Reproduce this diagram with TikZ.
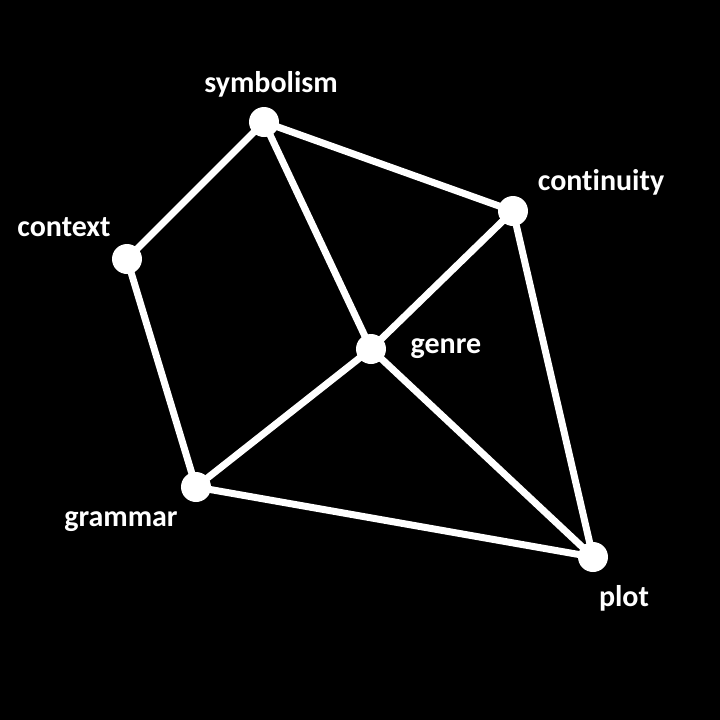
\documentclass[tikz,border=0pt]{standalone}
\usepackage{fontspec}
\setmainfont{Carlito}[Ligatures=NoCommon]
\usetikzlibrary{backgrounds}
\begin{document}
\begin{tikzpicture}[x=0.5pt,y=-0.5pt,
  dot/.style={circle,fill=white,draw=none,minimum size=15pt,inner sep=0pt},
  lbl/.style={text=white,font=\bfseries\fontsize{15}{18}\selectfont},
  edge/.style={draw=white,line width=3.5pt}]
\useasboundingbox (0,0) rectangle (720,720);
\node[dot] (sym) at (264,122) {};
\node[dot] (con) at (513,211) {};
\node[dot] (ctx) at (127,259) {};
\node[dot] (gen) at (371,349) {};
\node[dot] (gra) at (196,487) {};
\node[dot] (plo) at (593,557) {};
\begin{scope}[on background layer]
\fill[black] (0,0) rectangle (720,720);
\draw[edge] (sym.center) -- (ctx.center);
\draw[edge] (sym.center) -- (con.center);
\draw[edge] (sym.center) -- (gen.center);
\draw[edge] (con.center) -- (gen.center);
\draw[edge] (con.center) -- (plo.center);
\draw[edge] (ctx.center) -- (gra.center);
\draw[edge] (gra.center) -- (gen.center);
\draw[edge] (gra.center) -- (plo.center);
\draw[edge] (gen.center) -- (plo.center);
\end{scope}
\node[lbl] (lsym) at (271,84) {symbolism};
\node[lbl] (lcon) at (601,182) {continuity};
\node[lbl] (lctx) at (64,227) {context};
\node[lbl] (lgen) at (446,349) {genre};
\node[lbl] (lgra) at (121,522) {grammar};
\node[lbl] (lplo) at (624,598) {plot};
\end{tikzpicture}
\end{document}
